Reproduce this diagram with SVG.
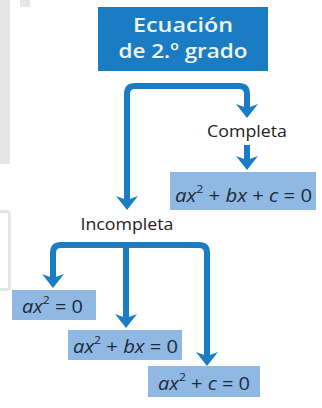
<svg xmlns="http://www.w3.org/2000/svg" width="322" height="408" viewBox="0 0 322 408">
  <style>
    .bg { fill: #e6e7e9; }
    .title { fill: #1a7dc4; }
    .ttext { font-family: "Open Sans", "Liberation Sans", sans-serif; font-weight: 600; font-size: 20px; fill: #eef3f2; text-anchor: middle; }
    .label { font-family: "Open Sans", "Liberation Sans", sans-serif; font-size: 16.5px; fill: #222; text-anchor: middle; }
    .eqbox { fill: #8fb9e3; }
    .eq { font-family: "Open Sans", "Liberation Sans", sans-serif; font-size: 18px; fill: #1e2a3a; }
    .it { font-style: italic; }
    .sup { font-size: 11px; }
    .conn { fill: none; stroke: #1a7dc4; stroke-width: 6; marker-end: url(#ah); }
  </style>
  <defs>
    <marker id="ah" markerUnits="userSpaceOnUse" viewBox="0 -11 14 22" markerWidth="14" markerHeight="22" refX="6" refY="0" orient="auto">
      <path d="M0,-11 L14,0 L0,11 L4,0 z" fill="#1a7dc4"/>
    </marker>
  </defs>
  <rect width="322" height="408" fill="#ffffff"/>
  <rect class="bg" x="0" y="0" width="10" height="164"/>
  <rect class="bg" x="20" y="0" width="10" height="7"/>
  <rect x="-10" y="211.5" width="19.5" height="78" rx="3" fill="#ffffff" stroke="#e4e5e7" stroke-width="3"/>

  <g id="connectors">
    <path class="conn" d="M187,86 H135 Q127,86 127,94 V202"/>
    <path class="conn" d="M187,86 H239 Q247,86 247,94 V110"/>
    <path class="conn" d="M247,145 V162"/>
    <path class="conn" d="M126,245 H61 Q53,245 53,253 V280"/>
    <path class="conn" d="M126,245 V320"/>
    <path class="conn" d="M126,245 H199 Q207,245 207,253 V358"/>
  </g>

  <g id="title">
    <rect class="title" x="98" y="7" width="170" height="64"/>
    <text class="ttext" x="183" y="32" textLength="100" lengthAdjust="spacingAndGlyphs">Ecuación</text>
    <text class="ttext" x="183" y="58" textLength="129" lengthAdjust="spacingAndGlyphs">de 2.º grado</text>
  </g>

  <g id="completa">
    <text class="label" x="247" y="137" textLength="80" lengthAdjust="spacingAndGlyphs">Completa</text>
  </g>

  <g id="eq-completa">
    <rect class="eqbox" x="170" y="172" width="146" height="38"/>
    <text class="eq" x="175" y="202" textLength="137" lengthAdjust="spacingAndGlyphs"><tspan class="it">ax</tspan><tspan class="sup" dy="-9">2</tspan><tspan dy="9"> + </tspan><tspan class="it">bx</tspan> + <tspan class="it">c</tspan> = 0</text>
  </g>

  <g id="incompleta">
    <text class="label" x="127" y="230" textLength="93" lengthAdjust="spacingAndGlyphs">Incompleta</text>
  </g>

  <g id="eq-a">
    <rect class="eqbox" x="12" y="290" width="84" height="30"/>
    <text class="eq" x="22" y="313" textLength="61" lengthAdjust="spacingAndGlyphs"><tspan class="it">ax</tspan><tspan class="sup" dy="-9">2</tspan><tspan dy="9"> = 0</tspan></text>
  </g>

  <g id="eq-b">
    <rect class="eqbox" x="68" y="330" width="114" height="30"/>
    <text class="eq" x="73" y="353" textLength="105" lengthAdjust="spacingAndGlyphs"><tspan class="it">ax</tspan><tspan class="sup" dy="-9">2</tspan><tspan dy="9"> + </tspan><tspan class="it">bx</tspan> = 0</text>
  </g>

  <g id="eq-c">
    <rect class="eqbox" x="148" y="366" width="112" height="31"/>
    <text class="eq" x="158" y="390" textLength="92" lengthAdjust="spacingAndGlyphs"><tspan class="it">ax</tspan><tspan class="sup" dy="-9">2</tspan><tspan dy="9"> + </tspan><tspan class="it">c</tspan> = 0</text>
  </g>
</svg>
